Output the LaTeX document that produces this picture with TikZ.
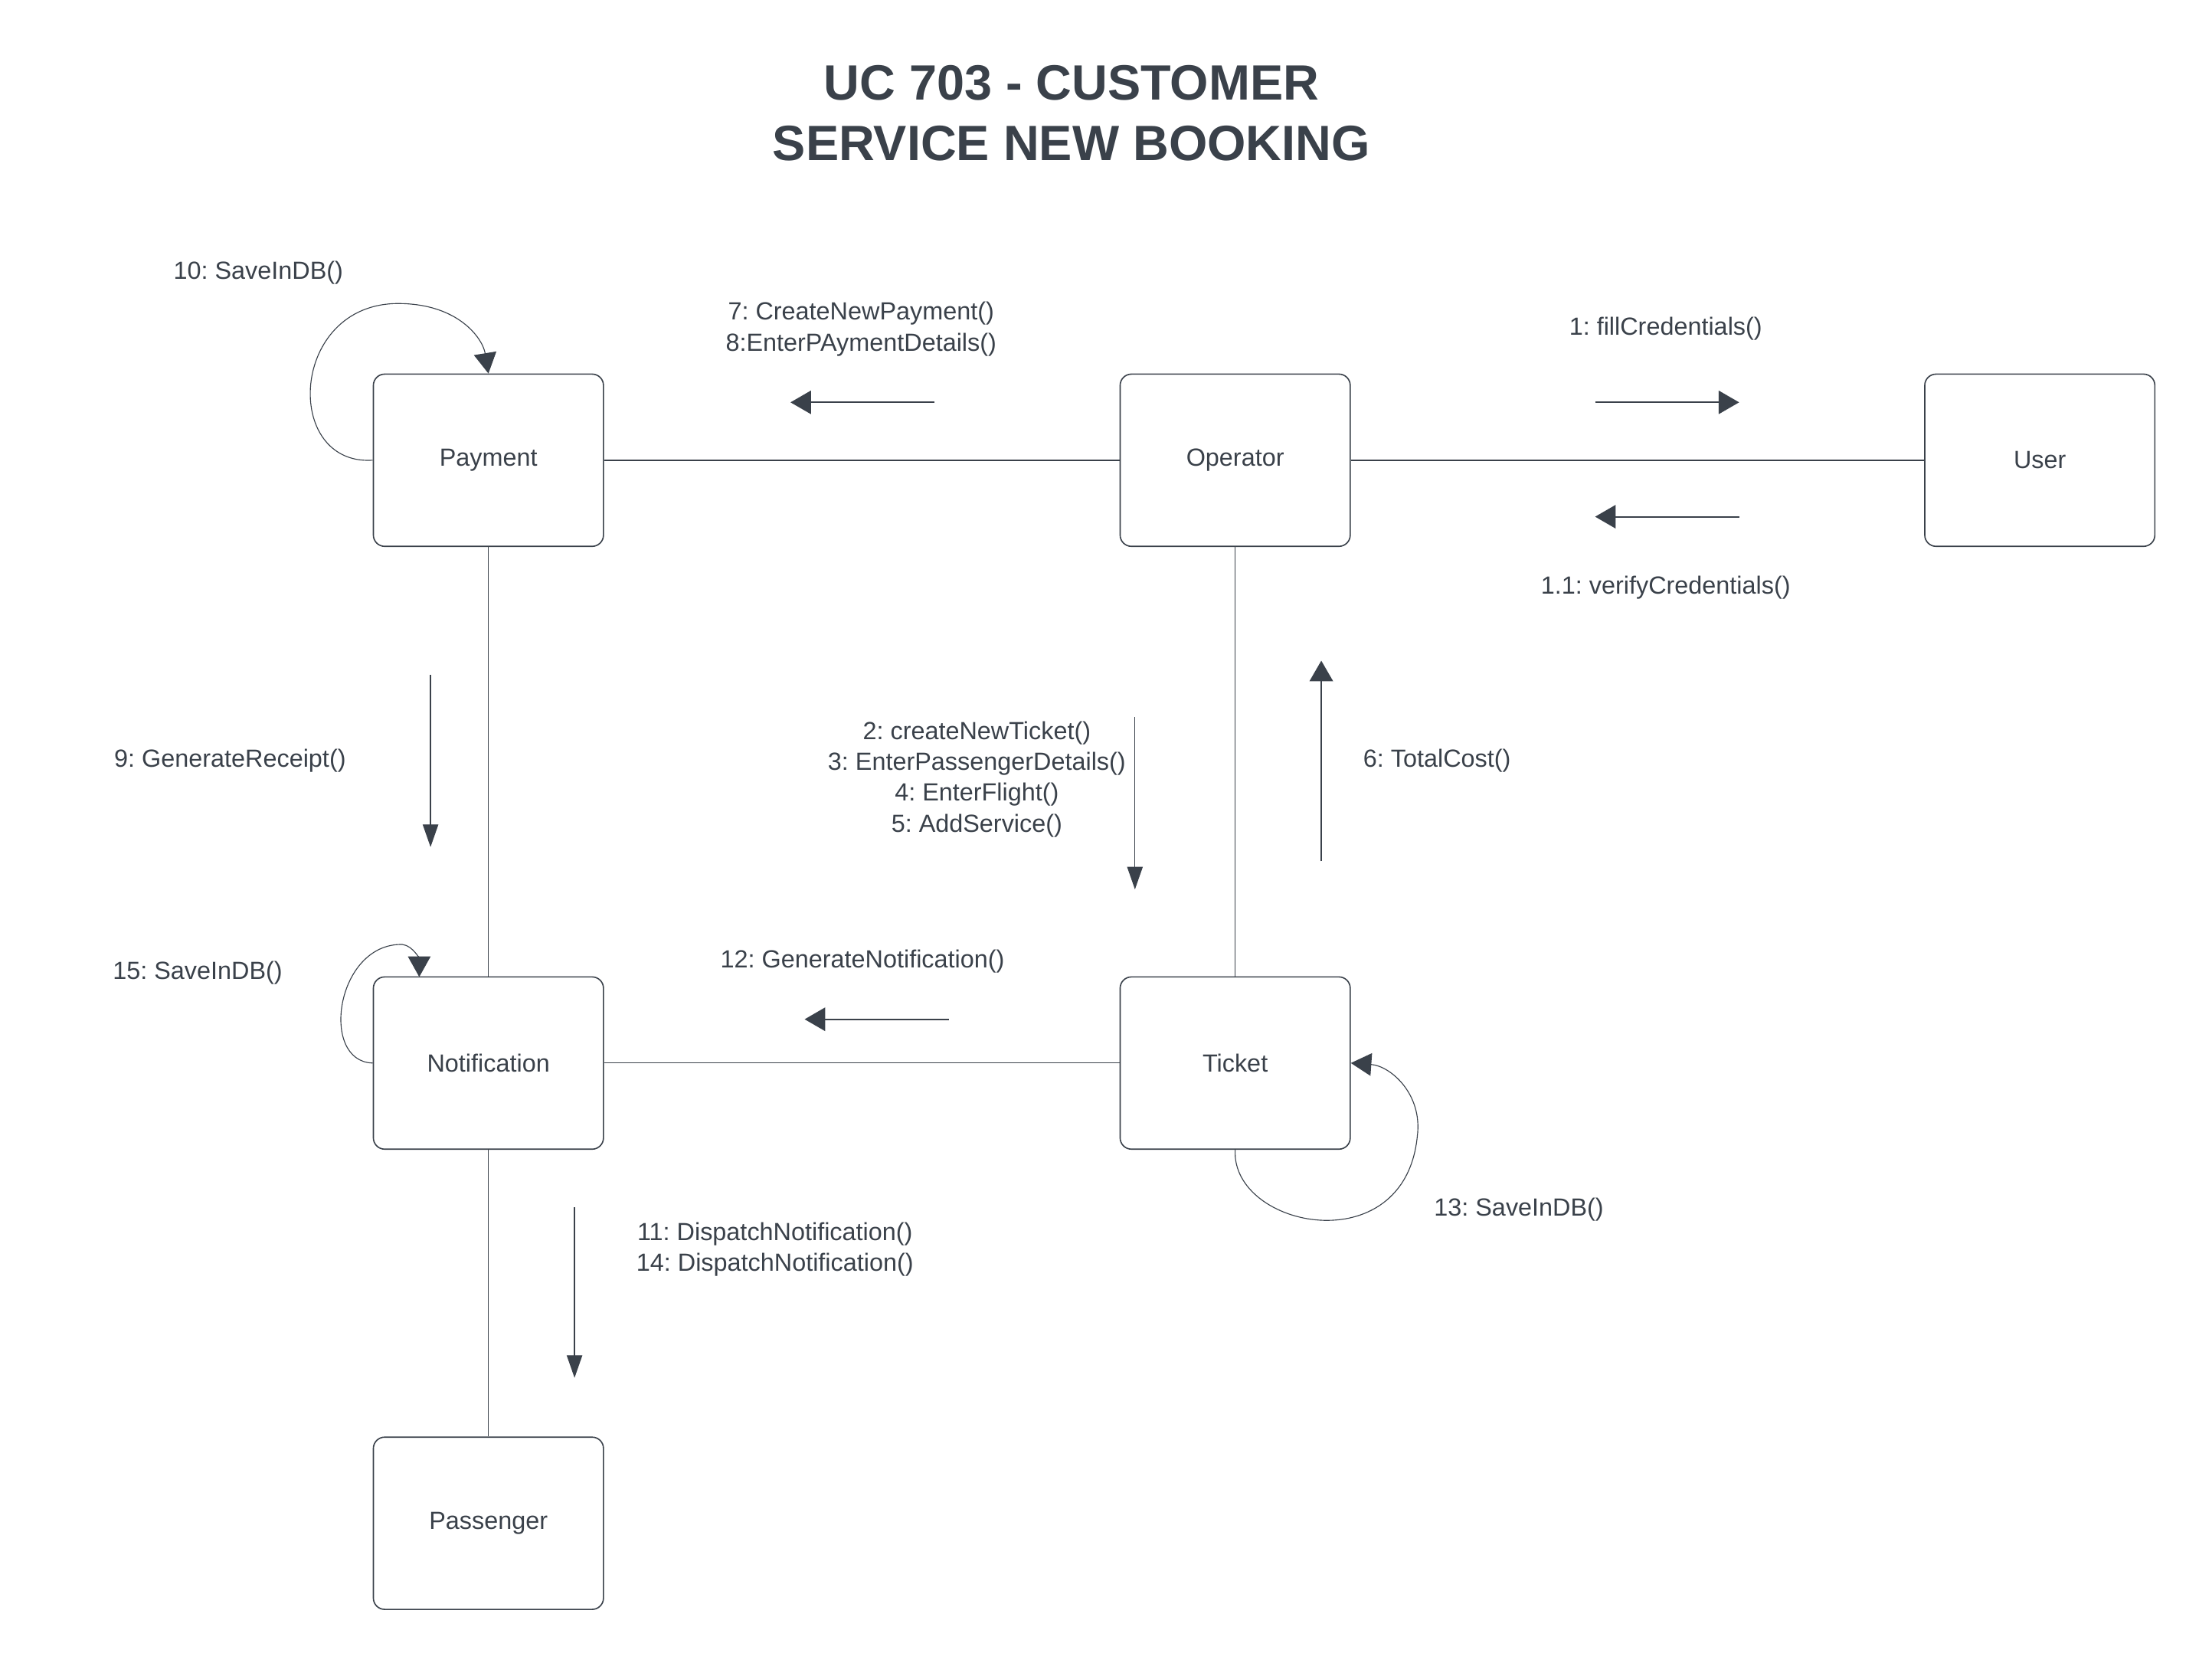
\documentclass[tikz,border=0pt]{standalone}
\usepackage{fontspec}
\setmainfont{Liberation Sans}
\usepackage{xcolor}
\usepackage{tikz}
\usetikzlibrary{arrows.meta}
\definecolor{ink}{HTML}{3A414A}
\frenchspacing

\begin{document}
\begin{tikzpicture}[x=0.2mm, y=-0.2mm,
	obj/.style={draw=ink, line width=0.5pt, rounded corners=1.6mm, minimum width=32.6mm, minimum height=24.4mm, text=ink, font=\fontsize{10}{12}\selectfont},
	link/.style={draw=ink, line width=0.3pt},
	mainlink/.style={draw=ink, line width=0.6pt},
	lbl/.style={text=ink, font=\fontsize{10}{12.5}\selectfont, align=center},
	msg/.style={draw=ink, line width=0.6pt, -{Triangle[length=2.9mm, width=3.3mm]}},
	thinmsg/.style={draw=ink, line width=0.4pt, -{Triangle[length=3.2mm, width=2.2mm]}},
	selfmsg/.style={draw=ink, line width=0.35pt, -{Triangle[length=2.9mm, width=3.2mm]}}]
	\path[use as bounding box, fill=white] (0,0) rectangle (1567,1180);
	\node[text=ink, font=\fontsize{20}{24.4}\selectfont\bfseries, align=center] (title) at (759,80) {UC 703 - CUSTOMER\\SERVICE NEW BOOKING};
	\node[obj] (pay) at (346,326) {Payment};
	\node[obj] (op) at (875,326) {Operator};
	\node[obj] (usr) at (1445,326) {User};
	\node[obj] (notif) at (346,753) {Notification};
	\node[obj] (tkt) at (875,753) {Ticket};
	\node[obj] (pass) at (346,1079) {Passenger};
	\draw[mainlink] (pay) -- (op);
	\draw[mainlink] (op) -- (usr);
	\draw[link] (pay) -- (notif);
	\draw[link] (op) -- (tkt);
	\draw[link] (notif) -- (tkt);
	\draw[link] (notif) -- (pass);
	\coordinate (m7a) at (662,285); \coordinate (m7b) at (560,285);
	\coordinate (m1a) at (1130,285); \coordinate (m1b) at (1232,285);
	\coordinate (m11a) at (1232,366); \coordinate (m11b) at (1130,366);
	\coordinate (m9a) at (305,478); \coordinate (m9b) at (305,600);
	\coordinate (m2a) at (804,508); \coordinate (m2b) at (804,630);
	\coordinate (m6a) at (936,610); \coordinate (m6b) at (936,468);
	\coordinate (m12a) at (672,722); \coordinate (m12b) at (570,722);
	\coordinate (m14a) at (407,855); \coordinate (m14b) at (407,976);
	\draw[msg] (m7a) -- (m7b);
	\draw[msg] (m1a) -- (m1b);
	\draw[msg] (m11a) -- (m11b);
	\draw[thinmsg] (m9a) -- (m9b);
	\draw[thinmsg] (m2a) -- (m2b);
	\draw[msg] (m6a) -- (m6b);
	\draw[msg] (m12a) -- (m12b);
	\draw[thinmsg] (m14a) -- (m14b);
	\coordinate (nin) at (297,692);
	\draw[selfmsg] (pay.west) .. controls (200,330) and (205,215) .. (282,215) .. controls (325,215) and (342,240) .. (pay.north);
	\draw[selfmsg] (notif.west) .. controls (226,752) and (238,668) .. (285,669) .. controls (293,670) and (297,680) .. (nin);
	\draw[selfmsg] (tkt.south) .. controls (872,870) and (995,895) .. (1004,805) .. controls (1008,775) and (985,755) .. (tkt.east);
	\node[lbl] (l10) at (183,193) {10: SaveInDB()};
	\node[lbl] (l7) at (610,233) {7: CreateNewPayment()\\8:EnterPAymentDetails()};
	\node[lbl] (l1) at (1180,233) {1: fillCredentials()};
	\node[lbl] (l11) at (1180,416) {1.1: verifyCredentials()};
	\node[lbl] (l9) at (163,539) {9: GenerateReceipt()};
	\node[lbl] (l2) at (692,552) {2: createNewTicket()\\3: EnterPassengerDetails()\\4: EnterFlight()\\5: AddService()};
	\node[lbl] (l6) at (1018,539) {6: TotalCost()};
	\node[lbl] (l12) at (611,681) {12: GenerateNotification()};
	\node[lbl] (l15) at (140,689) {15: SaveInDB()};
	\node[lbl] (l14) at (549,885) {11: DispatchNotification()\\14: DispatchNotification()};
	\node[lbl] (l13) at (1076,857) {13: SaveInDB()};
\end{tikzpicture}
\end{document}
